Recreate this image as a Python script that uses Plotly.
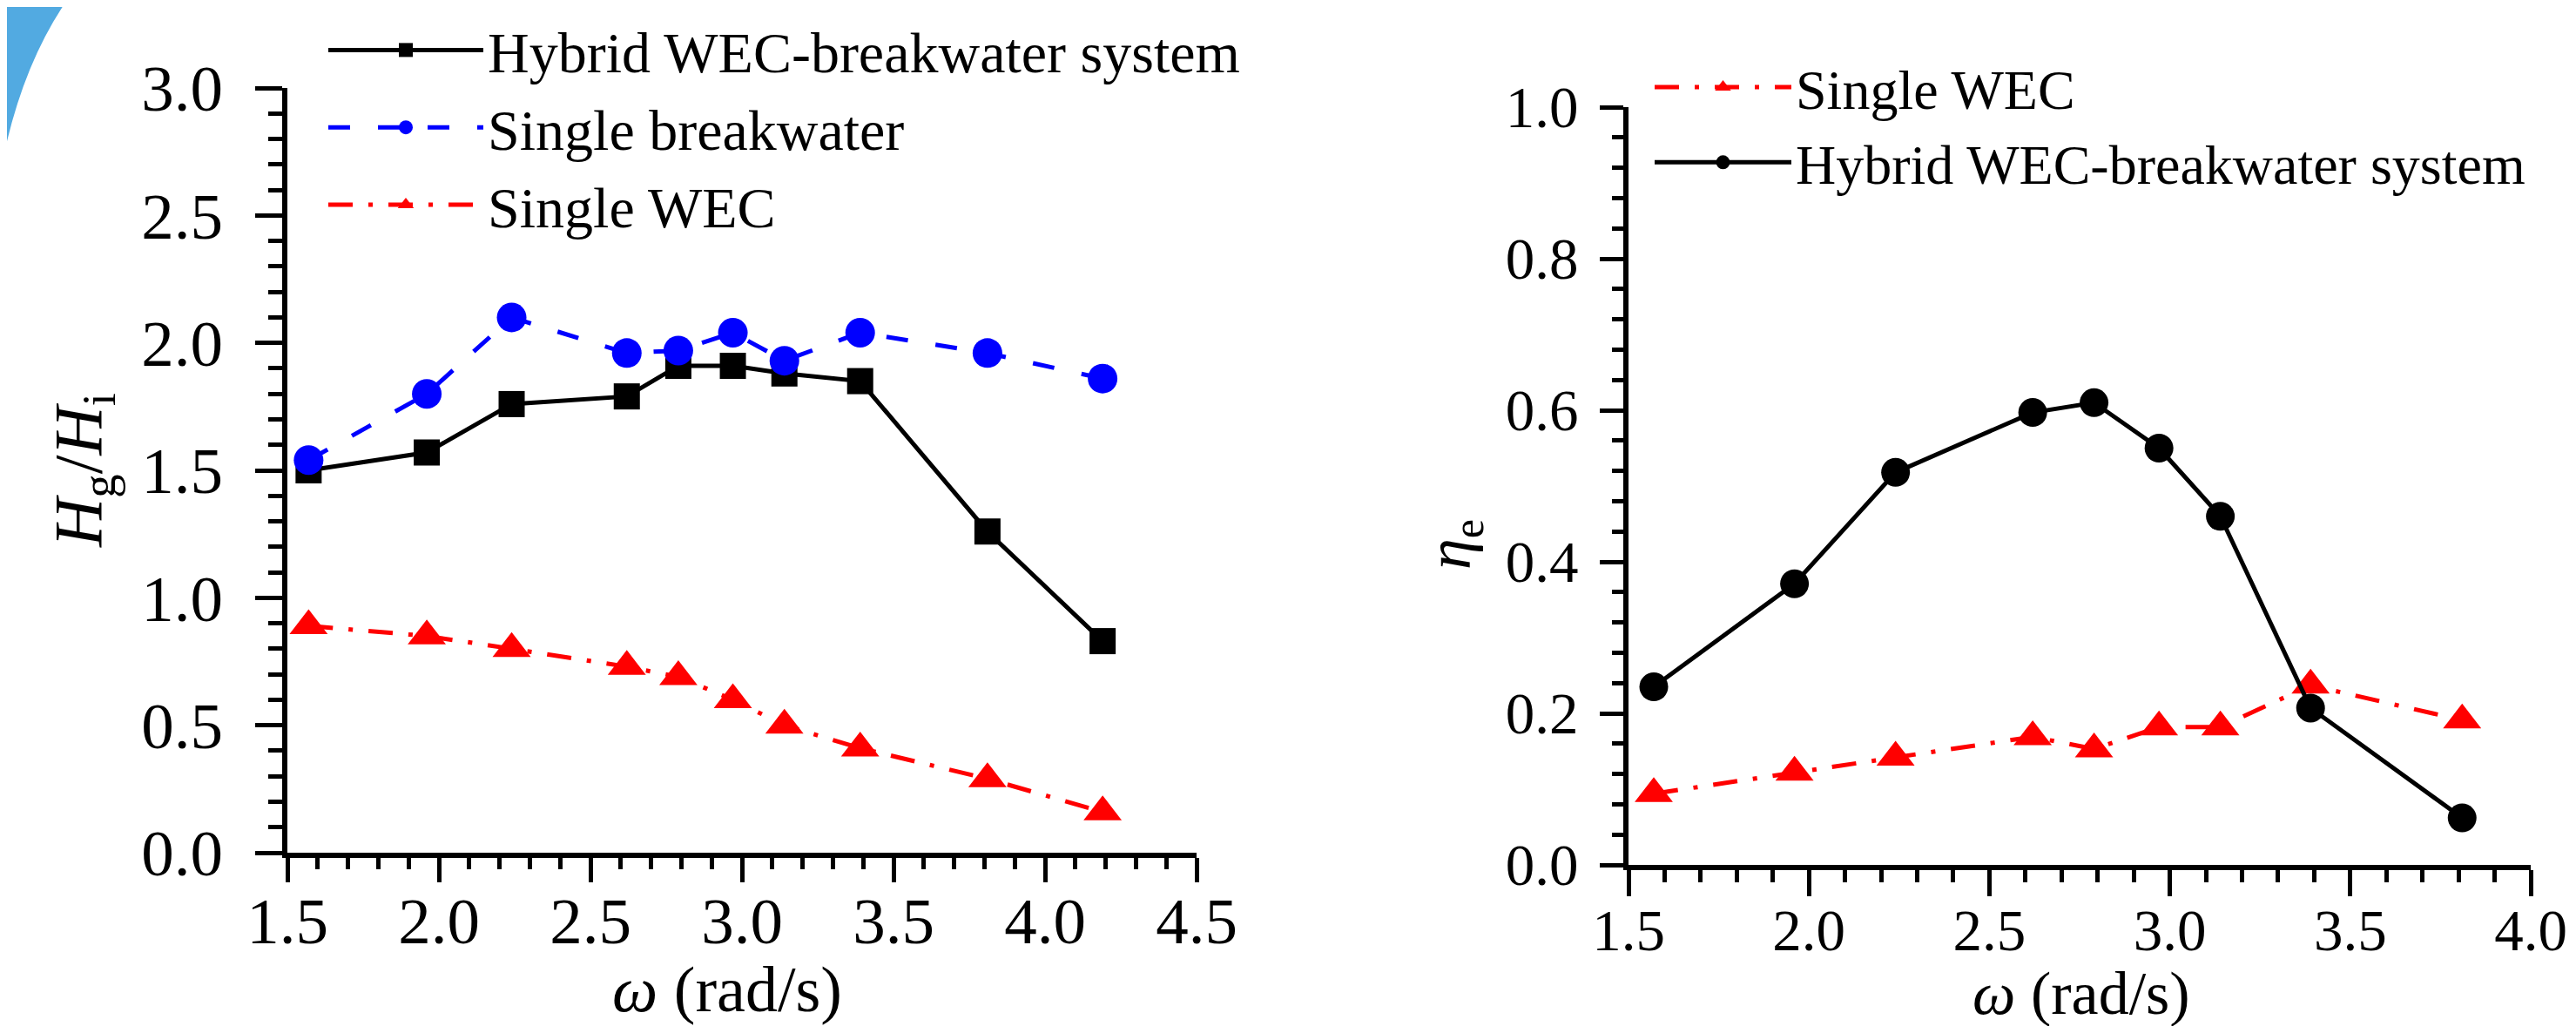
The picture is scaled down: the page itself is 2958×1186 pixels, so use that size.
import plotly.graph_objects as go

# ---------------- data ----------------
omega_left = [1.57, 1.96, 2.24, 2.62, 2.79, 2.97, 3.14, 3.39, 3.81, 4.19]
hybrid_hg = [1.50, 1.57, 1.76, 1.79, 1.91, 1.91, 1.88, 1.85, 1.26, 0.83]
breakwater_hg = [1.54, 1.80, 2.10, 1.96, 1.97, 2.04, 1.93, 2.04, 1.96, 1.86]
wec_hg = [0.89, 0.85, 0.80, 0.73, 0.69, 0.60, 0.50, 0.41, 0.29, 0.16]

omega_right = [1.57, 1.96, 2.24, 2.62, 2.79, 2.97, 3.14, 3.39, 3.81]
wec_eta = [0.094, 0.122, 0.142, 0.169, 0.153, 0.182, 0.182, 0.237, 0.191]
hybrid_eta = [0.235, 0.371, 0.518, 0.597, 0.610, 0.550, 0.460, 0.207, 0.062]

left_xticks = [1.5, 2.0, 2.5, 3.0, 3.5, 4.0, 4.5]
left_yticks = [0.0, 0.5, 1.0, 1.5, 2.0, 2.5, 3.0]
right_xticks = [1.5, 2.0, 2.5, 3.0, 3.5, 4.0]
right_yticks = [0.0, 0.2, 0.4, 0.6, 0.8, 1.0]

PAGE_W, PAGE_H = 2958, 1186
BODY = 8  # default page body margin
W, H = PAGE_W - 2 * BODY, PAGE_H - 2 * BODY
FONT = "Liberation Serif"
DASHDOT = "28px,18px,5px,18px"


def px_x(p):
    return (p - BODY) / W


def px_y(p):
    return 1 - (p - BODY) / H


fig = go.Figure()

# left panel
fig.add_trace(go.Scatter(
    x=omega_left, y=hybrid_hg, name="Hybrid WEC-breakwater system",
    mode="lines+markers", line=dict(color="black", width=5),
    marker=dict(symbol="square", size=30, color="black"),
    xaxis="x", yaxis="y", legend="legend"))
fig.add_trace(go.Scatter(
    x=omega_left, y=breakwater_hg, name="Single breakwater",
    mode="lines+markers", line=dict(color="#0000ff", width=5, dash="25px,32px"),
    marker=dict(symbol="circle", size=34, color="#0000ff"),
    xaxis="x", yaxis="y", legend="legend"))
fig.add_trace(go.Scatter(
    x=omega_left, y=wec_hg, name="Single WEC",
    mode="lines+markers", line=dict(color="#ff0000", width=5, dash=DASHDOT),
    marker=dict(symbol="triangle-up", size=38, color="#ff0000"),
    xaxis="x", yaxis="y", legend="legend"))

# right panel
fig.add_trace(go.Scatter(
    x=omega_right, y=wec_eta, name="Single WEC",
    mode="lines+markers", line=dict(color="#ff0000", width=5, dash=DASHDOT),
    marker=dict(symbol="triangle-up", size=38, color="#ff0000"),
    xaxis="x2", yaxis="y2", legend="legend2"))
fig.add_trace(go.Scatter(
    x=omega_right, y=hybrid_eta, name="Hybrid WEC-breakwater system",
    mode="lines+markers", line=dict(color="black", width=5),
    marker=dict(symbol="circle", size=33, color="black"),
    xaxis="x2", yaxis="y2", legend="legend2"))


def axis_common(tickvals, rng, minor_dtick, ticklen, minorlen, fsize, standoff):
    return dict(
        range=rng, tickvals=tickvals, ticktext=[f"{v:.1f}" for v in tickvals],
        ticks="outside", ticklen=ticklen, tickwidth=5, tickcolor="black",
        showline=True, linewidth=6, linecolor="black",
        showgrid=False, zeroline=False, automargin=False,
        tickfont=dict(family=FONT, size=fsize, color="black"),
        ticklabelstandoff=standoff,
        minor=dict(dtick=minor_dtick, tick0=0, ticks="outside", ticklen=minorlen,
                   tickwidth=5, tickcolor="black", showgrid=False),
    )


fig.update_layout(
    template="none",
    width=W, height=H,
    margin=dict(l=0, r=0, t=0, b=0, pad=0, autoexpand=False),
    paper_bgcolor="white", plot_bgcolor="white",
    font=dict(family=FONT, color="black"),
    xaxis=dict(domain=[px_x(330), px_x(1374)], anchor="y",
               **axis_common(left_xticks, [1.5, 4.5], 0.1, 28, 13, 75, -20)),
    yaxis=dict(domain=[px_y(979), px_y(101)], anchor="x",
               **axis_common(left_yticks, [0, 3.0], 0.1, 31, 16, 75, 22)),
    xaxis2=dict(domain=[px_x(1870), px_x(2906)], anchor="y2",
                **axis_common(right_xticks, [1.5, 4.0], 0.1, 30, 14, 67, -18)),
    yaxis2=dict(domain=[px_y(993), px_y(123)], anchor="x2",
                **axis_common(right_yticks, [0, 1.0], 0.04, 27, 13, 67, 11)),
    legend=dict(x=px_x(372), y=px_y(8), xanchor="left", yanchor="top",
                bgcolor="rgba(0,0,0,0)", borderwidth=0, itemwidth=178,
                font=dict(family=FONT, size=66, color="black")),
    legend2=dict(x=px_x(1895), y=px_y(52), xanchor="left", yanchor="top",
                 bgcolor="rgba(0,0,0,0)", borderwidth=0, itemwidth=157,
                 font=dict(family=FONT, size=64, color="black")),
    showlegend=True,
)

# axis titles
fig.add_annotation(text="<i>ω</i> (rad/s)", x=px_x(835), y=px_y(1136),
                   xref="paper", yref="paper", showarrow=False,
                   xanchor="center", yanchor="middle",
                   font=dict(family=FONT, size=74, color="black"))
fig.add_annotation(text="<i>ω</i> (rad/s)", x=px_x(2390), y=px_y(1140),
                   xref="paper", yref="paper", showarrow=False,
                   xanchor="center", yanchor="middle",
                   font=dict(family=FONT, size=70, color="black"))
fig.add_annotation(text="<i>H</i><sub>g</sub>/<i>H</i><sub>i</sub>",
                   x=px_x(95), y=px_y(540), xref="paper", yref="paper",
                   showarrow=False, textangle=-90, xanchor="center", yanchor="middle",
                   font=dict(family=FONT, size=78, color="black"))
fig.add_annotation(text="<i>η</i><sub>e</sub>",
                   x=px_x(1669), y=px_y(625), xref="paper", yref="paper",
                   showarrow=False, textangle=-90, xanchor="center", yanchor="middle",
                   font=dict(family=FONT, size=72, color="black"))

# decorative blue arc at the top-left corner
fig.add_shape(type="path", xref="paper", yref="paper", layer="below",
              path=f"M {px_x(0)} {px_y(0)} L {px_x(77)} {px_y(0)} "
                   f"Q {px_x(22)} {px_y(80)} {px_x(0)} {px_y(200)} Z",
              fillcolor="#52aae1", line=dict(width=0))

fig.write_html("out.html")
